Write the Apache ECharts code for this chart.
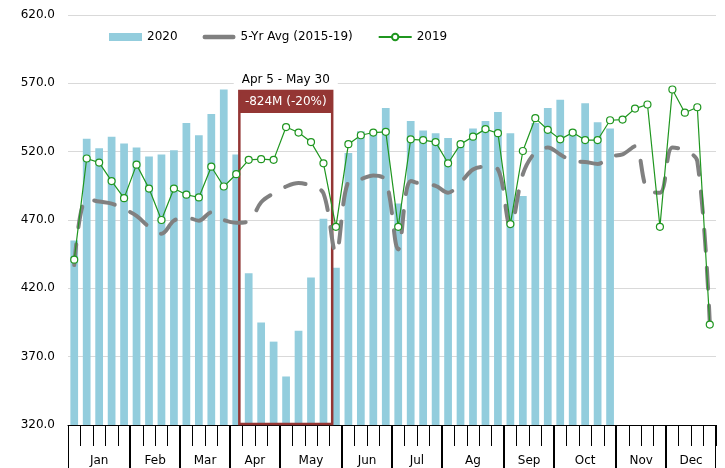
<!DOCTYPE html>
<html>
<head>
<meta charset="utf-8">
<script src="https://cdn.jsdelivr.net/npm/echarts@6/dist/echarts.min.js"></script>
<style>
html, body { margin: 0; padding: 0; background: #fff; }
#main { width: 725px; height: 468px; }
</style>
</head>
<body>
<div id="main"></div>
<script>
// months along the bottom and how many weeks each one holds
var monthNames = ['Jan', 'Feb', 'Mar', 'Apr', 'May', 'Jun', 'Jul', 'Ag', 'Sep', 'Oct', 'Nov', 'Dec'];
var monthWeeks = [5, 4, 4, 4, 5, 4, 4, 5, 4, 5, 4, 4];

// y axis
var yMin = 320, yMax = 620, yStep = 50;

// weekly values
var sales2020 = [455, 529.5, 522.5, 531, 526, 523, 516.5, 518, 521, 541, 532, 547.5, 565.5,
    518, 431, 395, 381, 355.5, 389, 428, 471, 435, 519, 535, 535, 552, 482, 542.5, 535.5,
    533.5, 530, 524, 537, 542.5, 549, 533.5, 487.5, 541, 552, 558, 536, 555.5, 541.5, 537];
var avg5yr = [437, 485.5, 483.5, 482, 478, 473, 465, 460, 469.5, 472, 469.5, 475.5, 470,
    468, 469, 483, 489.5, 494.5, 497, 495, 489.5, 446, 498, 500, 502.5, 499, 448.5, 498.5,
    496, 495, 490, 497.5, 507, 509, 507, 465, 503.5, 519.5, 523, 518, 513, 512.5, 511,
    516.5, 518, 524, 492, 490, 523, 521, 513, 395];
var sales2019 = [441, 515, 512, 498.5, 486, 510.5, 493, 470, 493, 488.5, 486.5, 509, 494.5,
    503.5, 514, 514.5, 514, 538, 534, 527, 511.5, 465, 525.5, 532, 534, 534.5, 465, 529,
    528.5, 527, 511.5, 525.5, 531, 536.5, 533.5, 467, 520.5, 544.5, 536, 529, 534, 528.5,
    528.5, 543, 543.5, 551.5, 554.5, 465, 565.5, 548.5, 552.5, 393.5];

// highlighted period (in weeks from Jan 1, and y values for the box top / header bottom)
var boxTitle = 'Apr 5 - May 30';
var boxLabel = '-824M (-20%)';
var boxWeeks = [13.75, 21.2];
var boxTop = 564.4, boxHeadBottom = 548.3;

var font = 'DejaVu Sans';
var red = '#943634';
var green = '#1f961f';

// week categories and month spans
var weekCats = [];
var monthSpans = [];
var w = 0;
for (var m = 0; m < monthNames.length; m++) {
    monthSpans.push([w, w + monthWeeks[m]]);
    for (var k = 0; k < monthWeeks[m]; k++) {
        weekCats.push(monthNames[m] + ' ' + (k + 1));
    }
    w += monthWeeks[m];
}

var chart = echarts.init(document.getElementById('main'));

var option = {
    animation: false,
    grid: { left: 68, right: 9, top: 15, bottom: 43 },
    legend: {
        left: 104,
        top: 26,
        itemWidth: 33,
        itemHeight: 8,
        itemGap: 25,
        textStyle: { fontFamily: font, fontSize: 12, color: '#000' },
        data: [
            { name: '2020', icon: 'rect' },
            { name: '5-Yr Avg (2015-19)', icon: 'path://M2,0 L28,0 A2,2 0 0 1 28,4 L2,4 A2,2 0 0 1 2,0 Z' },
            { name: '2019' }
        ]
    },
    xAxis: [{
        type: 'category',
        data: weekCats,
        boundaryGap: true,
        axisLine: { show: true, lineStyle: { color: '#000', width: 1 } },
        axisTick: { show: true, length: 21, interval: 0, alignWithLabel: false, lineStyle: { color: '#000', width: 1 } },
        axisLabel: { show: true, interval: 0, formatter: function () { return ''; } },
        splitLine: { show: false }
    }, {
        type: 'value',
        min: 0,
        max: weekCats.length,
        show: false
    }],
    yAxis: {
        type: 'value',
        min: yMin,
        max: yMax,
        interval: yStep,
        axisLine: { show: false },
        axisTick: { show: false },
        axisLabel: {
            formatter: function (v) { return v.toFixed(1); },
            color: '#000',
            fontFamily: font,
            fontSize: 12,
            margin: 13
        },
        splitLine: { lineStyle: { color: '#d9d9d9', width: 1 } }
    },
    series: [{
        name: '2020',
        type: 'bar',
        barCategoryGap: '38%',
        itemStyle: { color: '#93cddd' },
        data: sales2020
    }, {
        name: 'months',
        type: 'custom',
        xAxisIndex: 1,
        silent: true,
        encode: { x: [0, 1] },
        renderItem: function (params, api) {
            var a = api.coord([api.value(0), yMin]);
            var b = api.coord([api.value(1), yMin]);
            return {
                type: 'group',
                children: [
                    { type: 'line', shape: { x1: Math.round(a[0]) + 0.5, y1: a[1], x2: Math.round(a[0]) + 0.5, y2: a[1] + 45 },
                      style: { stroke: '#000', lineWidth: 1 } },
                    { type: 'line', shape: { x1: Math.round(b[0]) - 0.5, y1: b[1], x2: Math.round(b[0]) - 0.5, y2: b[1] + 45 },
                      style: { stroke: '#000', lineWidth: 1 } },
                    { type: 'text', x: (a[0] + b[0]) / 2, y: a[1] + 36,
                      style: { text: monthNames[params.dataIndex], fill: '#000', font: '12px ' + font,
                               align: 'center', verticalAlign: 'middle' } }
                ]
            };
        },
        data: monthSpans
    }, {
        name: 'box',
        type: 'custom',
        xAxisIndex: 1,
        silent: true,
        z: 10,
        encode: { x: [0, 1], y: [2, 3] },
        renderItem: function (params, api) {
            var tl = api.coord([api.value(0), api.value(2)]);
            var hb = api.coord([api.value(0), api.value(3)]);
            var br = api.coord([api.value(1), yMin]);
            var cx = (tl[0] + br[0]) / 2;
            return {
                type: 'group',
                children: [
                    { type: 'rect', shape: { x: tl[0], y: tl[1], width: br[0] - tl[0], height: hb[1] - tl[1] },
                      style: { fill: red } },
                    { type: 'rect', shape: { x: tl[0], y: tl[1], width: br[0] - tl[0], height: br[1] - tl[1] - 1 },
                      style: { fill: 'transparent', stroke: red, lineWidth: 2.5 } },
                    { type: 'text', x: cx, y: (tl[1] + hb[1]) / 2,
                      style: { text: boxLabel, fill: '#fff', font: '12px ' + font, align: 'center', verticalAlign: 'middle' } },
                    { type: 'text', x: cx, y: tl[1] - 11,
                      style: { text: boxTitle, fill: '#000', font: '12px ' + font, align: 'center', verticalAlign: 'middle',
                               backgroundColor: '#fff', padding: [2, 8] } }
                ]
            };
        },
        data: [[boxWeeks[0], boxWeeks[1], boxTop, boxHeadBottom]]
    }, {
        name: '5-Yr Avg (2015-19)',
        type: 'line',
        smooth: 0.35,
        symbol: 'none',
        z: 11,
        lineStyle: { color: '#808080', width: 4, type: [21, 17], cap: 'round' },
        itemStyle: { color: '#808080' },
        data: avg5yr
    }, {
        name: '2019',
        type: 'line',
        symbol: 'circle',
        symbolSize: 7,
        showAllSymbol: true,
        z: 12,
        lineStyle: { color: green, width: 1.2 },
        itemStyle: { color: '#fff', borderColor: green, borderWidth: 1.2 },
        data: sales2019
    }]
};

chart.setOption(option);
</script>
</body>
</html>
